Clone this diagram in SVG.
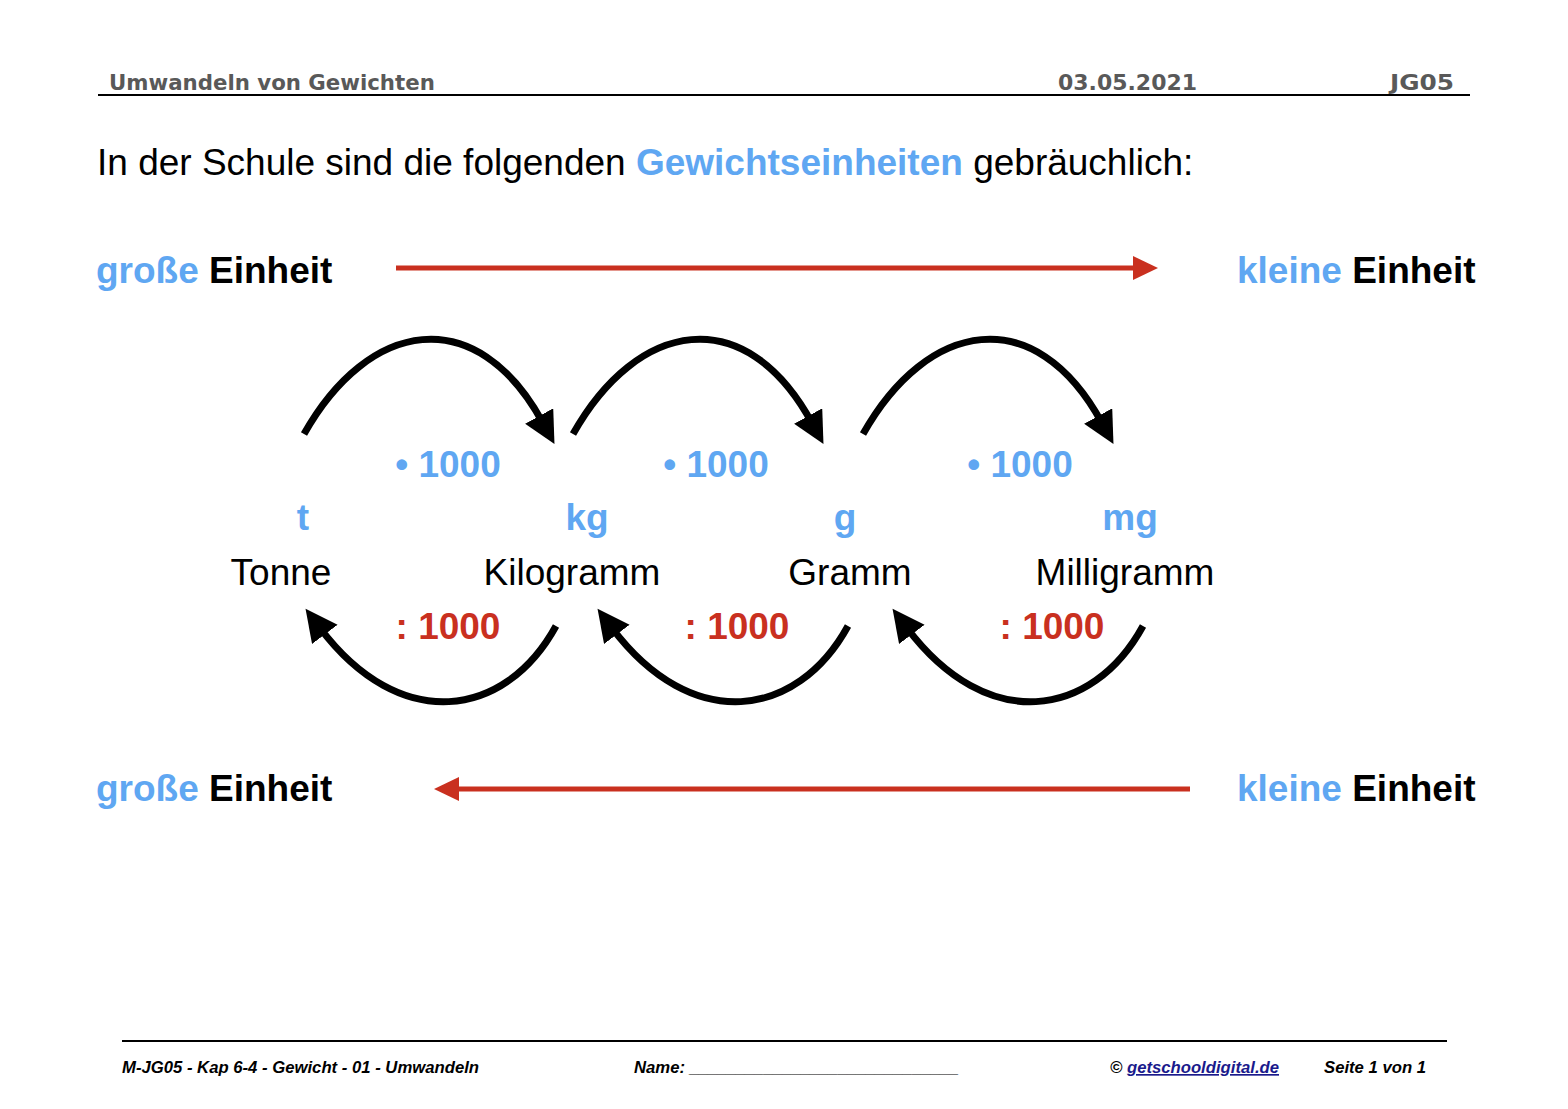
<svg xmlns="http://www.w3.org/2000/svg" width="1568" height="1109" viewBox="0 0 1568 1109">
<defs>
<style>
.hdr{font-family:"DejaVu Sans",sans-serif;font-weight:bold;font-size:21.3px;fill:#595959}
.t{font-family:"Liberation Sans",Arial,sans-serif}
.blue{fill:#5fa7f2;font-weight:bold}
.red{fill:#c9301f;font-weight:bold}
.blk{fill:#000}
.big{font-size:37px}
.mid{font-size:37px}
.foot{font-family:"Liberation Sans",Arial,sans-serif;font-size:16.7px;font-weight:bold;font-style:italic;fill:#000}
.arc{fill:none;stroke:#000;stroke-width:7}
.redl{stroke:#c9301f;stroke-width:5}
</style>
<marker id="ah" markerUnits="userSpaceOnUse" markerWidth="34" markerHeight="34" refX="8" refY="16" orient="auto">
<path d="M0,0 L32,16 L0,32 z" fill="#000"/>
</marker>
<marker id="rh" markerUnits="userSpaceOnUse" markerWidth="26" markerHeight="26" refX="2" refY="12" orient="auto">
<path d="M0,0 L25,12 L0,24 z" fill="#c9301f"/>
</marker>
</defs>
<rect width="1568" height="1109" fill="#fff"/>
<g id="header">
<text class="hdr" x="109" y="90">Umwandeln von Gewichten</text>
<text class="hdr" x="1058" y="90" textLength="139" lengthAdjust="spacingAndGlyphs">03.05.2021</text>
<text class="hdr" x="1390" y="90" textLength="64" lengthAdjust="spacingAndGlyphs">JG05</text>
<line x1="98" y1="95" x2="1470" y2="95" stroke="#000" stroke-width="2"/>
</g>
<g id="title">
<text class="t mid blk" x="97" y="175">In der Schule sind die folgenden <tspan class="blue">Gewichtseinheiten</tspan> gebräuchlich:</text>
</g>
<g id="label-top-left"><text class="t big" x="96" y="283" font-weight="bold"><tspan class="blue">große</tspan> Einheit</text></g>
<g id="label-top-right"><text class="t big" x="1237" y="283" font-weight="bold"><tspan class="blue">kleine</tspan> Einheit</text></g>
<g id="label-bottom-left"><text class="t big" x="96" y="801" font-weight="bold"><tspan class="blue">große</tspan> Einheit</text></g>
<g id="label-bottom-right"><text class="t big" x="1237" y="801" font-weight="bold"><tspan class="blue">kleine</tspan> Einheit</text></g>
<g id="unit-t"><text class="t mid blue" x="303" y="530" text-anchor="middle">t</text><text class="t mid blk" x="281" y="585" text-anchor="middle">Tonne</text></g>
<g id="unit-kg"><text class="t mid blue" x="587" y="530" text-anchor="middle">kg</text><text class="t mid blk" x="572" y="585" text-anchor="middle">Kilogramm</text></g>
<g id="unit-g"><text class="t mid blue" x="845" y="530" text-anchor="middle">g</text><text class="t mid blk" x="850" y="585" text-anchor="middle">Gramm</text></g>
<g id="unit-mg"><text class="t mid blue" x="1130" y="530" text-anchor="middle">mg</text><text class="t mid blk" x="1125" y="585" text-anchor="middle">Milligramm</text></g>
<g id="connectors">
<line class="redl" x1="396" y1="268" x2="1135" y2="268" marker-end="url(#rh)"/>
<line class="redl" x1="1190" y1="789" x2="457" y2="789" marker-end="url(#rh)"/>
<path class="arc" d="M304,434 C368,320 476,300 543,423" marker-end="url(#ah)"/>
<path class="arc" d="M573,434 C637,320 745,300 812,423" marker-end="url(#ah)"/>
<path class="arc" d="M863,434 C927,320 1035,300 1102,423" marker-end="url(#ah)"/>
<path class="arc" d="M556,626 C505,719 400,734 320,628" marker-end="url(#ah)"/>
<path class="arc" d="M848,626 C797,719 692,734 612,628" marker-end="url(#ah)"/>
<path class="arc" d="M1143,626 C1092,719 987,734 907,628" marker-end="url(#ah)"/>
<text class="t mid blue" x="448" y="477" text-anchor="middle">• 1000</text>
<text class="t mid blue" x="716" y="477" text-anchor="middle">• 1000</text>
<text class="t mid blue" x="1020" y="477" text-anchor="middle">• 1000</text>
<text class="t mid red" x="448" y="639" text-anchor="middle">: 1000</text>
<text class="t mid red" x="737" y="639" text-anchor="middle">: 1000</text>
<text class="t mid red" x="1052" y="639" text-anchor="middle">: 1000</text>
</g>
<g id="footer">
<line x1="122" y1="1041" x2="1447" y2="1041" stroke="#000" stroke-width="2"/>
<text class="foot" x="122" y="1073">M-JG05 - Kap 6-4 - Gewicht - 01 - Umwandeln</text>
<text class="foot" x="634" y="1073">Name: _____________________________</text>
<text class="foot" x="1110" y="1073">© <tspan fill="#1a1a8c" text-decoration="underline">getschooldigital.de</tspan></text>
<text class="foot" x="1324" y="1073">Seite 1 von 1</text>
</g>
</svg>
